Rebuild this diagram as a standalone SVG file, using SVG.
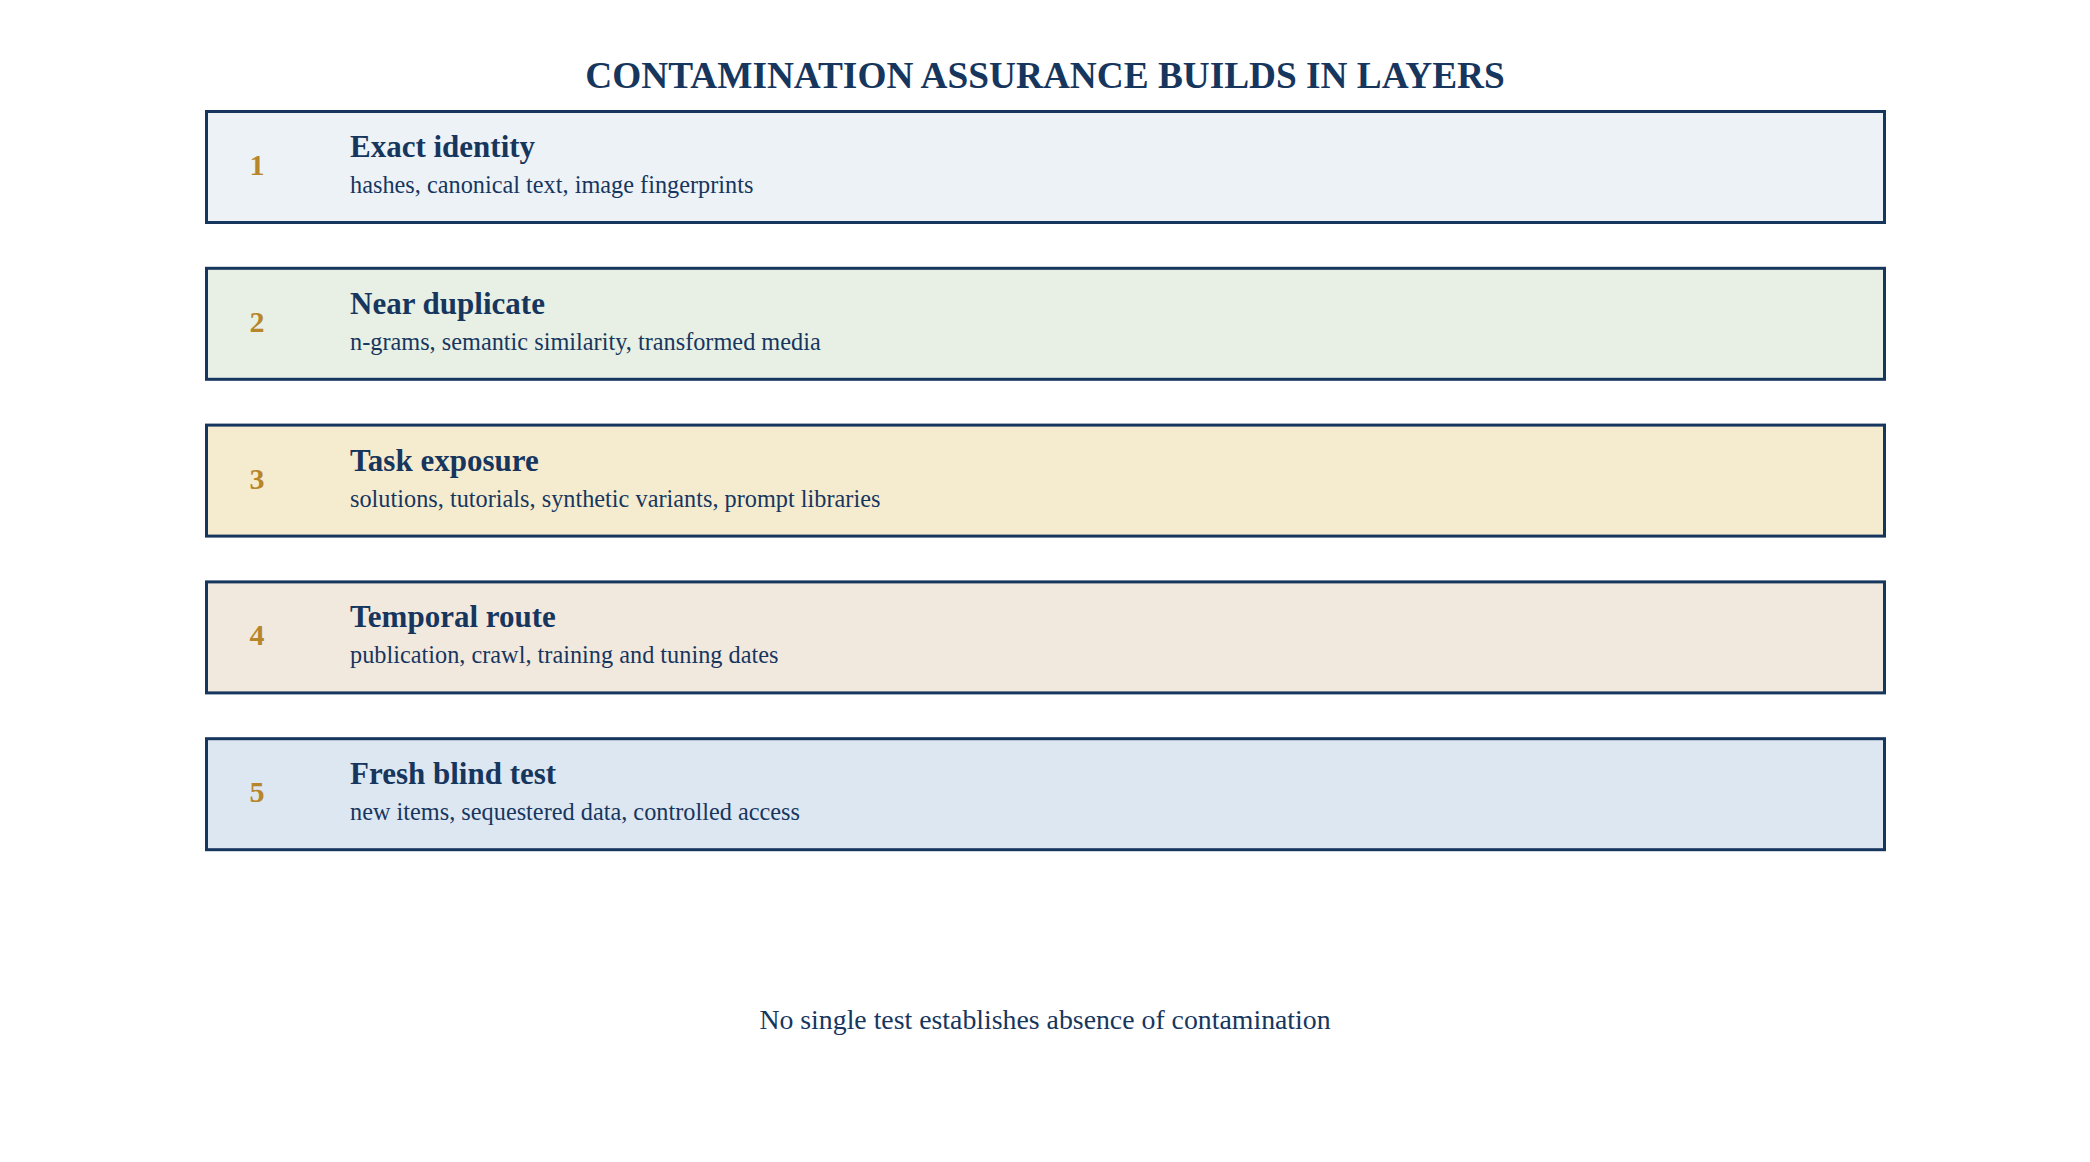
<svg xmlns="http://www.w3.org/2000/svg" width="2090" height="1162" viewBox="0 0 2090 1162">
<style>
.bg{fill:#ffffff}
.box{stroke:#17365e;stroke-width:3}
.title{font-family:"Liberation Serif","Times New Roman",serif;font-weight:bold;font-size:37.3px;fill:#17365e;text-anchor:middle}
.num{font-family:"Liberation Serif","Times New Roman",serif;font-weight:bold;font-size:30px;fill:#b8862a;text-anchor:middle}
.head{font-family:"Liberation Serif","Times New Roman",serif;font-weight:bold;font-size:31px;fill:#17365e}
.sub{font-family:"Liberation Serif","Times New Roman",serif;font-size:24.3px;fill:#17365e}
.foot{font-family:"Liberation Serif","Times New Roman",serif;font-size:27.8px;fill:#17365e;text-anchor:middle}
</style>
<rect class="bg" x="0" y="0" width="2090" height="1162"/>
<text class="title" x="1045" y="88">CONTAMINATION ASSURANCE BUILDS IN LAYERS</text>
<g id="connectors"></g>
<g id="layer1">
<rect class="box" x="206.5" y="111.5" width="1678" height="111" fill="#edf2f7"/>
<text class="num" x="257" y="175">1</text>
<text class="head" x="350" y="157">Exact identity</text>
<text class="sub" x="350" y="193">hashes, canonical text, image fingerprints</text>
</g>
<g id="layer2">
<rect class="box" x="206.5" y="268.3" width="1678" height="111" fill="#e8f0e5"/>
<text class="num" x="257" y="331.8">2</text>
<text class="head" x="350" y="313.8">Near duplicate</text>
<text class="sub" x="350" y="349.8">n-grams, semantic similarity, transformed media</text>
</g>
<g id="layer3">
<rect class="box" x="206.5" y="425.1" width="1678" height="111" fill="#f5ecd0"/>
<text class="num" x="257" y="488.6">3</text>
<text class="head" x="350" y="470.6">Task exposure</text>
<text class="sub" x="350" y="506.6">solutions, tutorials, synthetic variants, prompt libraries</text>
</g>
<g id="layer4">
<rect class="box" x="206.5" y="581.9" width="1678" height="111" fill="#f2e9de"/>
<text class="num" x="257" y="645.4">4</text>
<text class="head" x="350" y="627.4">Temporal route</text>
<text class="sub" x="350" y="663.4">publication, crawl, training and tuning dates</text>
</g>
<g id="layer5">
<rect class="box" x="206.5" y="738.7" width="1678" height="111" fill="#dde7f1"/>
<text class="num" x="257" y="802.2">5</text>
<text class="head" x="350" y="784.2">Fresh blind test</text>
<text class="sub" x="350" y="820.2">new items, sequestered data, controlled access</text>
</g>
<text class="foot" x="1045" y="1029">No single test establishes absence of contamination</text>
</svg>
